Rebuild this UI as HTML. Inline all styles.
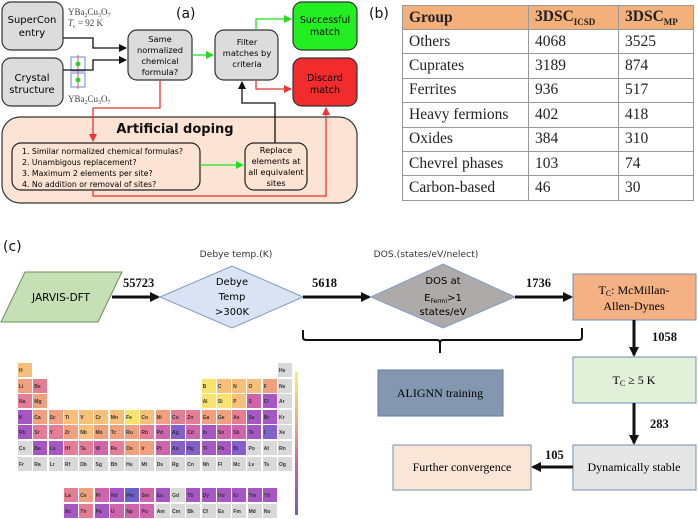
<!DOCTYPE html>
<html><head><meta charset="utf-8"><style>
html,body{margin:0;padding:0;background:#fff;}
#wrap{position:relative;width:698px;height:519px;overflow:hidden;background:#fff;}
svg{position:absolute;left:0;top:0;}
.pt{position:absolute;display:grid;grid-template-columns:repeat(18,14px);grid-auto-rows:14px;gap:1.6px 1.3px;}
.pt div{font:bold 5px "Liberation Sans",sans-serif;color:#333;padding:5px 0 0 1px;box-sizing:border-box;}
.g{background:#d9d9d9}.y{background:#f8e46c}.o{background:#f7c07a}.s{background:#f1a07e}.p{background:#e67d97}.m{background:#cf64ad}.u{background:#a657c4}.v{background:#8460cc}.b{background:#6a60c8}
table{position:absolute;left:402px;top:5px;width:292px;border-collapse:collapse;font:15.5px "Liberation Serif",serif;color:#222;}
td{border:1px solid #999;height:24.4px;padding:0 0 0 6px;box-sizing:border-box;}
tr.h td{background:#f4b07a;font-weight:bold;height:24px;}
</style></head><body><div id="wrap">
<svg width="698" height="519" viewBox="0 0 698 519" font-family="DejaVu Sans, Liberation Sans, sans-serif">
<defs>
<marker id="ak" markerWidth="8" markerHeight="8" refX="7" refY="4" orient="auto" markerUnits="userSpaceOnUse"><path d="M0,0L8,4L0,8z" fill="#111"/></marker>
<marker id="ag" markerWidth="8" markerHeight="8" refX="7" refY="4" orient="auto" markerUnits="userSpaceOnUse"><path d="M0,0L8,4L0,8z" fill="#22dd22"/></marker>
<marker id="ar" markerWidth="8" markerHeight="8" refX="7" refY="4" orient="auto" markerUnits="userSpaceOnUse"><path d="M0,0L8,4L0,8z" fill="#ee3333"/></marker>
<marker id="ab" markerWidth="10" markerHeight="10" refX="8" refY="5" orient="auto" markerUnits="userSpaceOnUse"><path d="M0,0L10,5L0,10z" fill="#111"/></marker>
<linearGradient id="cb" x1="0" y1="0" x2="0" y2="1"><stop offset="0" stop-color="#f9f06a"/><stop offset="0.35" stop-color="#f5a77c"/><stop offset="0.65" stop-color="#d2619f"/><stop offset="1" stop-color="#6a5fc8"/></linearGradient>
</defs>
<!-- panel a -->
<rect x="2" y="117" width="355" height="86" rx="18" fill="#fce3d3" stroke="#333" stroke-width="1.2"/>
<text x="175" y="133" font-size="13" font-weight="bold" text-anchor="middle" fill="#111">Artificial doping</text>
<rect x="2" y="2" width="61" height="48" rx="9" fill="#dcdcdc" stroke="#333" stroke-width="1.2"/>
<text x="32" y="23" font-size="10" text-anchor="middle">SuperCon</text><text x="32" y="36" font-size="10" text-anchor="middle">entry</text>
<rect x="2" y="58" width="61" height="48" rx="9" fill="#dcdcdc" stroke="#333" stroke-width="1.2"/>
<text x="32" y="81" font-size="10" text-anchor="middle">Crystal</text><text x="32" y="93" font-size="10" text-anchor="middle">structure</text>
<rect x="128" y="30" width="64" height="50" rx="9" fill="#dcdcdc" stroke="#333" stroke-width="1.2"/>
<text x="160" y="42" font-size="8.3" text-anchor="middle">Same</text><text x="160" y="53" font-size="8.3" text-anchor="middle">normalized</text><text x="160" y="64" font-size="8.3" text-anchor="middle">chemical</text><text x="160" y="75" font-size="8.3" text-anchor="middle">formula?</text>
<rect x="215" y="30" width="63" height="50" rx="9" fill="#dcdcdc" stroke="#333" stroke-width="1.2"/>
<text x="247" y="45" font-size="8.3" text-anchor="middle">Filter</text><text x="247" y="56" font-size="8.3" text-anchor="middle">matches by</text><text x="247" y="67" font-size="8.3" text-anchor="middle">criteria</text>
<rect x="293" y="2" width="64" height="48" rx="9" fill="#22ee22" stroke="#333" stroke-width="1.2"/>
<text x="325" y="23" font-size="9.5" text-anchor="middle">Successful</text><text x="325" y="35" font-size="9.5" text-anchor="middle">match</text>
<rect x="293" y="58" width="64" height="48" rx="9" fill="#f22c2c" stroke="#333" stroke-width="1.2"/>
<text x="325" y="81" font-size="9.5" text-anchor="middle">Discard</text><text x="325" y="93" font-size="9.5" text-anchor="middle">match</text>
<rect x="12" y="143" width="188" height="47" rx="9" fill="#fce3d3" stroke="#222" stroke-width="1.2"/>
<text x="22" y="154" font-size="7.8">1. Similar normalized chemical formulas?</text>
<text x="22" y="165" font-size="7.8">2. Unambigous replacement?</text>
<text x="22" y="176" font-size="7.8">3. Maximum 2 elements per site?</text>
<text x="22" y="187" font-size="7.8">4. No addition or removal of sites?</text>
<rect x="245" y="143" width="62" height="47" rx="9" fill="#fce3d3" stroke="#222" stroke-width="1.2"/>
<text x="276" y="153" font-size="8.2" text-anchor="middle">Replace</text><text x="276" y="164" font-size="8.2" text-anchor="middle">elements at</text><text x="276" y="175" font-size="8.2" text-anchor="middle">all equivalent</text><text x="276" y="186" font-size="8.2" text-anchor="middle">sites</text>
<text x="176" y="18" font-size="14" fill="#111">(a)</text>
<text x="68" y="15" font-size="9" font-family="Liberation Serif,serif" fill="#444">YBa<tspan font-size="6" dy="2">2</tspan><tspan dy="-2">Cu</tspan><tspan font-size="6" dy="2">3</tspan><tspan dy="-2">O</tspan><tspan font-size="6" dy="2">7</tspan></text>
<text x="68" y="26" font-size="9" font-family="Liberation Serif,serif" fill="#444"><tspan font-style="italic">T</tspan><tspan font-size="6" dy="2">c</tspan><tspan dy="-2"> = 92 K</tspan></text>
<text x="68" y="102" font-size="9" font-family="Liberation Serif,serif" fill="#444">YBa<tspan font-size="6" dy="2">2</tspan><tspan dy="-2">Cu</tspan><tspan font-size="6" dy="2">3</tspan><tspan dy="-2">O</tspan><tspan font-size="6" dy="2">7</tspan></text>
<g stroke="#5566cc" stroke-width="0.8" fill="none"><rect x="71" y="57" width="14" height="14"/><rect x="71" y="73" width="14" height="14"/><line x1="78" y1="55" x2="78" y2="89" stroke="#cc4444"/></g>
<circle cx="78" cy="64" r="2.5" fill="#33cc33"/><circle cx="78" cy="80" r="2.5" fill="#33cc33"/>
<g fill="none" stroke-width="1.3">
<path d="M63,38H93V48H126" stroke="#111" marker-end="url(#ak)"/>
<path d="M63,70H93V60H126" stroke="#111" marker-end="url(#ak)"/>
<path d="M192,55H213" stroke="#22dd22" marker-end="url(#ag)"/>
<path d="M256,30V19H291" stroke="#22dd22" marker-end="url(#ag)"/>
<path d="M256,80V89H291" stroke="#ee3333" marker-end="url(#ar)"/>
<path d="M160,80V108H93V141" stroke="#ee3333" marker-end="url(#ar)"/>
<path d="M275,143V103H242V82" stroke="#111" marker-end="url(#ak)"/>
<path d="M200,165H243" stroke="#22dd22" marker-end="url(#ag)"/>
<path d="M93,190V196H326V108" stroke="#ee3333" marker-end="url(#ar)"/>
</g>
<text x="369" y="18" font-size="14" fill="#111">(b)</text>
<!-- panel c -->
<text x="3" y="251" font-size="14" fill="#111">(c)</text>
<path d="M25,272H122L98,322H1Z" fill="#c5e0b4" stroke="#6f8f5a" stroke-width="1"/>
<text x="61" y="301" font-size="10.5" text-anchor="middle" font-family="DejaVu Sans,sans-serif">JARVIS-DFT</text>
<path d="M160,297L232,266L303,297L232,328Z" fill="#dae3f3" stroke="#7f9cc8" stroke-width="1"/>
<text x="232" y="285" font-size="10" text-anchor="middle">Debye</text>
<text x="232" y="300" font-size="10" text-anchor="middle">Temp</text>
<text x="232" y="315" font-size="10" text-anchor="middle">&gt;300K</text>
<text x="236" y="257" font-size="9.2" text-anchor="middle" fill="#333">Debye temp.(K)</text>
<path d="M371,297L443,264L515,297L443,328Z" fill="#aeaaaa" stroke="#7f9cc8" stroke-width="1"/>
<text x="443" y="284" font-size="10" text-anchor="middle">DOS at</text>
<text x="443" y="301" font-size="10" text-anchor="middle">E<tspan font-size="6" dy="2">Fermi</tspan><tspan dy="-2">&gt;1</tspan></text>
<text x="443" y="315" font-size="10" text-anchor="middle">states/eV</text>
<text x="426" y="257" font-size="9.2" text-anchor="middle" fill="#333">DOS.(states/eV/nelect)</text>
<rect x="573" y="274" width="123" height="46" fill="#f4b183" stroke="#6f8fb8" stroke-width="1"/>
<text x="634" y="294" font-size="12" text-anchor="middle" font-family="Liberation Serif,serif">T<tspan font-size="8" dy="2">C</tspan><tspan dy="-2">: McMillan-</tspan></text>
<text x="634" y="310" font-size="12" text-anchor="middle" font-family="Liberation Serif,serif">Allen-Dynes</text>
<rect x="573" y="357" width="123" height="46" fill="#e2efd9" stroke="#6f8fb8" stroke-width="1"/>
<text x="634" y="384" font-size="12" text-anchor="middle" font-family="Liberation Serif,serif">T<tspan font-size="8" dy="2">C</tspan><tspan dy="-2"> ≥ 5 K</tspan></text>
<rect x="378" y="370" width="125" height="46" fill="#8497b0" stroke="#5f7aa8" stroke-width="1"/>
<text x="440" y="397" font-size="12" text-anchor="middle" font-family="Liberation Serif,serif">ALIGNN training</text>
<rect x="573" y="445" width="123" height="45" fill="#e6e6e6" stroke="#6f8fb8" stroke-width="1"/>
<text x="634" y="471" font-size="12" text-anchor="middle" font-family="Liberation Serif,serif">Dynamically stable</text>
<rect x="393" y="445" width="138" height="45" fill="#fbe5d6" stroke="#6f8fb8" stroke-width="1"/>
<text x="462" y="471" font-size="12" text-anchor="middle" font-family="Liberation Serif,serif">Further convergence</text>
<g fill="none" stroke="#111" stroke-width="3">
<path d="M112,297H158" marker-end="url(#ab)"/>
<path d="M303,297H369" marker-end="url(#ab)"/>
<path d="M515,297H571" marker-end="url(#ab)"/>
<path d="M634,320V355" marker-end="url(#ab)"/>
<path d="M634,403V443" marker-end="url(#ab)"/>
<path d="M573,467H533" marker-end="url(#ab)"/>
</g>
<path d="M303,330V337Q303,340 306,340H437Q440,340 440,343V353M440,343Q440,340 443,340H579Q582,340 582,337V328" fill="none" stroke="#111" stroke-width="2"/>
<g font-family="Liberation Serif,serif" font-weight="bold" font-size="12.5" fill="#111">
<text x="123" y="287">55723</text><text x="312" y="287">5618</text><text x="526" y="287">1736</text>
<text x="652" y="341">1058</text><text x="650" y="428">283</text><text x="545" y="459">105</text>
</g>
<rect x="295" y="372" width="3" height="143" fill="url(#cb)"/>
</svg>
<table>
<tr class="h"><td style="width:126px">Group</td><td style="width:90px">3DSC<sub style="font-size:9px">ICSD</sub></td><td>3DSC<sub style="font-size:9px">MP</sub></td></tr>
<tr><td>Others</td><td>4068</td><td>3525</td></tr>
<tr><td>Cuprates</td><td>3189</td><td>874</td></tr>
<tr><td>Ferrites</td><td>936</td><td>517</td></tr>
<tr><td>Heavy fermions</td><td>402</td><td>418</td></tr>
<tr><td>Oxides</td><td>384</td><td>310</td></tr>
<tr><td>Chevrel phases</td><td>103</td><td>74</td></tr>
<tr><td>Carbon-based</td><td>46</td><td>30</td></tr>
</table>
<div class="pt" style="left:18px;top:363px;">
<div class="o">H</div><div class="g" style="grid-column:18">He</div>
<div class="s">Li</div><div class="p">Be</div><div class="y" style="grid-column:13">B</div><div class="o">C</div><div class="o">N</div><div class="o">O</div><div class="s">F</div><div class="g">Ne</div>
<div class="p">Na</div><div class="s">Mg</div><div class="y" style="grid-column:13">Al</div><div class="y">Si</div><div class="o">P</div><div class="m">S</div><div class="u">Cl</div><div class="g">Ar</div>
<div class="u">K</div><div class="s">Ca</div><div class="s">Sc</div><div class="o">Ti</div><div class="o">V</div><div class="o">Cr</div><div class="o">Mn</div><div class="y">Fe</div><div class="o">Co</div><div class="s">Ni</div><div class="p">Cu</div><div class="p">Zn</div><div class="s">Ga</div><div class="s">Ge</div><div class="p">As</div><div class="u">Se</div><div class="u">Br</div><div class="g">Kr</div>
<div class="u">Rb</div><div class="p">Sr</div><div class="p">Y</div><div class="s">Zr</div><div class="o">Nb</div><div class="s">Mo</div><div class="s">Tc</div><div class="s">Ru</div><div class="p">Rh</div><div class="m">Pd</div><div class="v">Ag</div><div class="m">Cd</div><div class="u">In</div><div class="m">Sn</div><div class="m">Sb</div><div class="u">Te</div><div class="v">I</div><div class="g">Xe</div>
<div class="g">Cs</div><div class="u">Ba</div><div class="u">Lu</div><div class="p">Hf</div><div class="p">Ta</div><div class="m">W</div><div class="p">Re</div><div class="s">Os</div><div class="s">Ir</div><div class="m">Pt</div><div class="v">Au</div><div class="v">Hg</div><div class="u">Tl</div><div class="u">Pb</div><div class="v">Bi</div><div class="g">Po</div><div class="g">At</div><div class="g">Rn</div>
<div class="g">Fr</div><div class="g">Ra</div><div class="g">Lr</div><div class="g">Rf</div><div class="g">Db</div><div class="g">Sg</div><div class="g">Bh</div><div class="g">Hs</div><div class="g">Mt</div><div class="g">Ds</div><div class="g">Rg</div><div class="g">Cn</div><div class="g">Nh</div><div class="g">Fl</div><div class="g">Mc</div><div class="g">Lv</div><div class="g">Ts</div><div class="g">Og</div>
</div>
<div class="pt" style="left:64px;top:488px;grid-template-columns:repeat(14,14px);">
<div class="p">La</div><div class="s">Ce</div><div class="m">Pr</div><div class="u">Nd</div><div class="b">Pm</div><div class="m">Sm</div><div class="u">Eu</div><div class="g">Gd</div><div class="u">Tb</div><div class="u">Dy</div><div class="u">Ho</div><div class="u">Er</div><div class="u">Tm</div><div class="u">Yb</div>
<div class="u">Ac</div><div class="p">Th</div><div class="u">Pa</div><div class="m">U</div><div class="m">Np</div><div class="m">Pu</div><div class="g">Am</div><div class="g">Cm</div><div class="g">Bk</div><div class="g">Cf</div><div class="g">Es</div><div class="g">Fm</div><div class="g">Md</div><div class="g">No</div>
</div>
</div></body></html>
